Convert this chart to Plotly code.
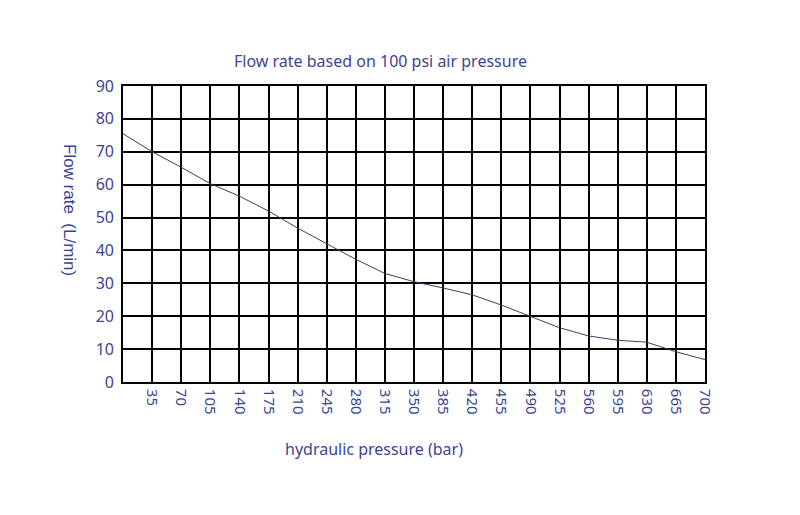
import plotly.graph_objects as go

pressure_bar = [0, 35, 70, 105, 140, 175, 210, 245, 280, 315, 350, 385, 420, 455, 490, 525, 560, 595, 630, 665, 700]
flow_lpm = [75.5, 70, 65.3, 60.3, 56.5, 52, 46.8, 42, 37.3, 33, 30.5, 28.6, 26.5, 23.4, 20, 16.5, 14, 12.7, 12.1, 9.2, 6.8]
x_ticks = [35, 70, 105, 140, 175, 210, 245, 280, 315, 350, 385, 420, 455, 490, 525, 560, 595, 630, 665, 700]
y_ticks = [0, 10, 20, 30, 40, 50, 60, 70, 80, 90]

title_text = "Flow rate based on 100 psi air pressure"
x_title = "hydraulic pressure (bar)"
y_title = "Flow rate  (L/min)"

txt = "#3c4496"

fig = go.Figure()
fig.add_trace(go.Scatter(x=pressure_bar, y=flow_lpm, mode="lines",
                         line=dict(color="#3a3f6a", width=1), showlegend=False))

fig.update_layout(
    width=800, height=515,
    margin=dict(l=123, r=95, t=86, b=133),
    paper_bgcolor="white", plot_bgcolor="white",
    xaxis=dict(range=[0, 700], tickvals=x_ticks, ticktext=[str(v) for v in x_ticks],
               tickangle=90, showgrid=True, gridcolor="black", gridwidth=1.6,
               zeroline=False, showline=True, linecolor="black", linewidth=1.6, mirror=True,
               ticks="", ticklabelstandoff=2,
               tickfont=dict(family="Noto Sans", size=15, color=txt)),
    yaxis=dict(range=[0, 90], tickvals=y_ticks, showgrid=True, gridcolor="black", gridwidth=1.6,
               zeroline=False, showline=True, linecolor="black", linewidth=1.6, mirror=True,
               ticks="", ticklabelstandoff=4,
               tickfont=dict(family="Noto Sans", size=16, color=txt)),
    annotations=[
        dict(text=title_text, xref="paper", yref="paper", x=0.443, y=1.084,
             xanchor="center", yanchor="middle",
             showarrow=False, font=dict(family="Noto Sans", size=16, color=txt)),
        dict(text=x_title, xref="paper", yref="paper", x=0.432, y=-0.226,
             xanchor="center", yanchor="middle",
             showarrow=False, font=dict(family="Noto Sans", size=16, color=txt)),
        dict(text=y_title, xref="paper", yref="paper", x=-0.091, y=0.581, textangle=90,
             xanchor="center", yanchor="middle",
             showarrow=False, font=dict(family="Liberation Sans", size=17, color=txt)),
    ],
)

fig.write_html("out.html")
